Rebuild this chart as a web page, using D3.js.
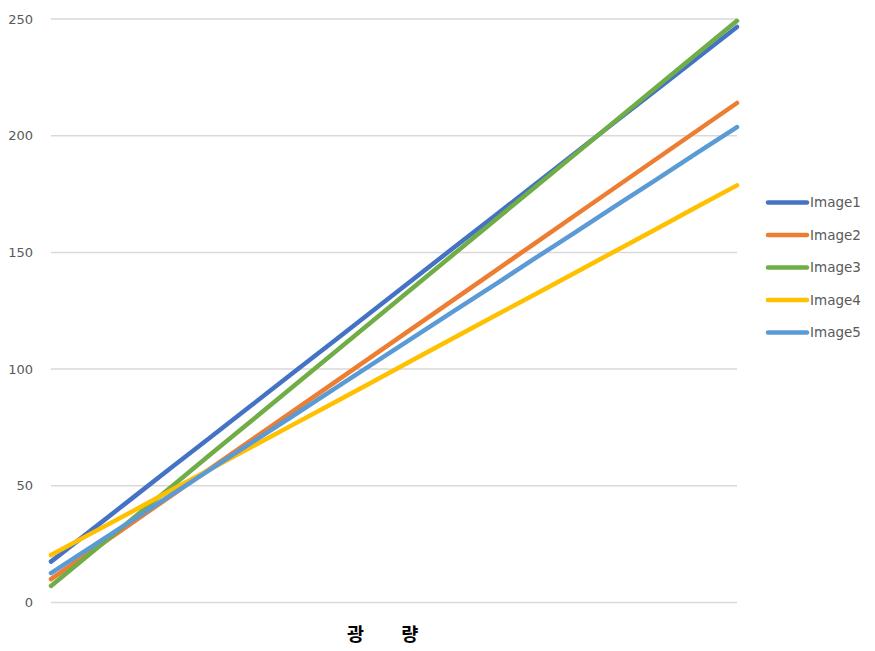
<!DOCTYPE html>
<html>
<head>
<meta charset="utf-8">
<script src="https://cdn.jsdelivr.net/npm/d3@7"></script>
<style>
  html, body { margin: 0; padding: 0; background: #fff; }
  svg { display: block; }
</style>
</head>
<body>
<div id="chart"></div>
<script>
// ---- data ----
const levels = [0, 15, 30, 45, 60, 75, 90, 105, 120, 135, 150, 165, 180, 195, 210, 225, 240, 255];
const seriesNames = ["Image1", "Image2", "Image3", "Image4", "Image5"];
const image1 = [17.3, 30.8, 44.3, 57.8, 71.2, 84.7, 98.2, 111.6, 125.1, 138.6, 152.1, 165.5, 179.0, 192.5, 206.0, 219.4, 232.9, 246.4];
const image2 = [9.8, 21.8, 33.8, 45.8, 57.8, 69.8, 81.8, 93.8, 105.8, 117.8, 129.8, 141.8, 153.8, 165.8, 177.8, 189.8, 201.8, 213.8];
const image3 = [6.9, 21.1, 35.4, 49.6, 63.9, 78.1, 92.3, 106.6, 120.8, 135.1, 149.3, 163.6, 177.8, 192.0, 206.3, 220.5, 234.8, 249.0];
const image4 = [20.1, 29.4, 38.7, 48.1, 57.4, 66.7, 76.0, 85.3, 94.6, 104.0, 113.3, 122.6, 131.9, 141.2, 150.5, 159.8, 169.2, 178.5];
const image5 = [12.4, 23.6, 34.9, 46.1, 57.4, 68.6, 79.8, 91.1, 102.3, 113.6, 124.8, 136.0, 147.3, 158.5, 169.8, 181.0, 192.3, 203.5];
const yTicks = [0, 50, 100, 150, 200, 250];
const colors = ["#4472C4", "#ED7D31", "#70AD47", "#FFC000", "#5B9BD5"];
const xTitle = "광 량";

const allSeries = [image1, image2, image3, image4, image5];

// ---- layout ----
const W = 875, H = 651;
const plot = { left: 51, right: 737, top: 18.5, bottom: 602 };

const svg = d3.select("#chart").append("svg").attr("width", W).attr("height", H);

const x = d3.scaleLinear().domain([0, 255]).range([plot.left, plot.right]);
const y = d3.scaleLinear().domain([0, 250]).range([plot.bottom, plot.top]);

// gridlines + y labels via axis
const yAxis = d3.axisLeft(y).tickValues(yTicks).tickSize(-(plot.right - plot.left)).tickPadding(18);
const gy = svg.append("g").attr("transform", `translate(${plot.left},0)`).call(yAxis);
gy.select(".domain").remove();
gy.selectAll(".tick line").attr("stroke", "#d9d9d9").attr("stroke-width", 1.5);
gy.selectAll(".tick text")
  .attr("fill", "#595959")
  .style("font-family", "'DejaVu Sans', sans-serif")
  .style("font-size", "13px")
  .attr("dy", "0.36em");

// lines
const line = d3.line().x((d, i) => x(levels[i])).y(d => y(d));
svg.append("g").selectAll("path").data(allSeries).join("path")
  .attr("d", d => line(d))
  .attr("fill", "none")
  .attr("stroke", (d, i) => colors[i])
  .attr("stroke-width", 4.5)
  .attr("stroke-linecap", "round")
  .attr("stroke-linejoin", "round");

// x axis title
svg.append("text")
  .attr("x", 347).attr("y", 641)
  .attr("text-anchor", "start")
  .style("font-family", "'Noto Sans CJK KR', sans-serif")
  .style("font-weight", "bold")
  .style("font-size", "18.5px")
  .style("letter-spacing", "16.5px")
  .attr("fill", "#000")
  .text(xTitle);

// legend
const legendY = d3.scalePoint().domain(seriesNames).range([202.5, 332.5]);
const lg = svg.append("g").selectAll("g").data(seriesNames).join("g")
  .attr("transform", d => `translate(0,${legendY(d)})`);
lg.append("line")
  .attr("x1", 768).attr("x2", 807).attr("y1", 0).attr("y2", 0)
  .attr("stroke", (d, i) => colors[i])
  .attr("stroke-width", 4.5)
  .attr("stroke-linecap", "round");
lg.append("text")
  .attr("x", 810).attr("y", 0).attr("dy", "0.36em")
  .attr("fill", "#595959")
  .style("font-family", "'DejaVu Sans', sans-serif")
  .style("font-size", "13.5px")
  .text(d => d);
</script>
</body>
</html>
